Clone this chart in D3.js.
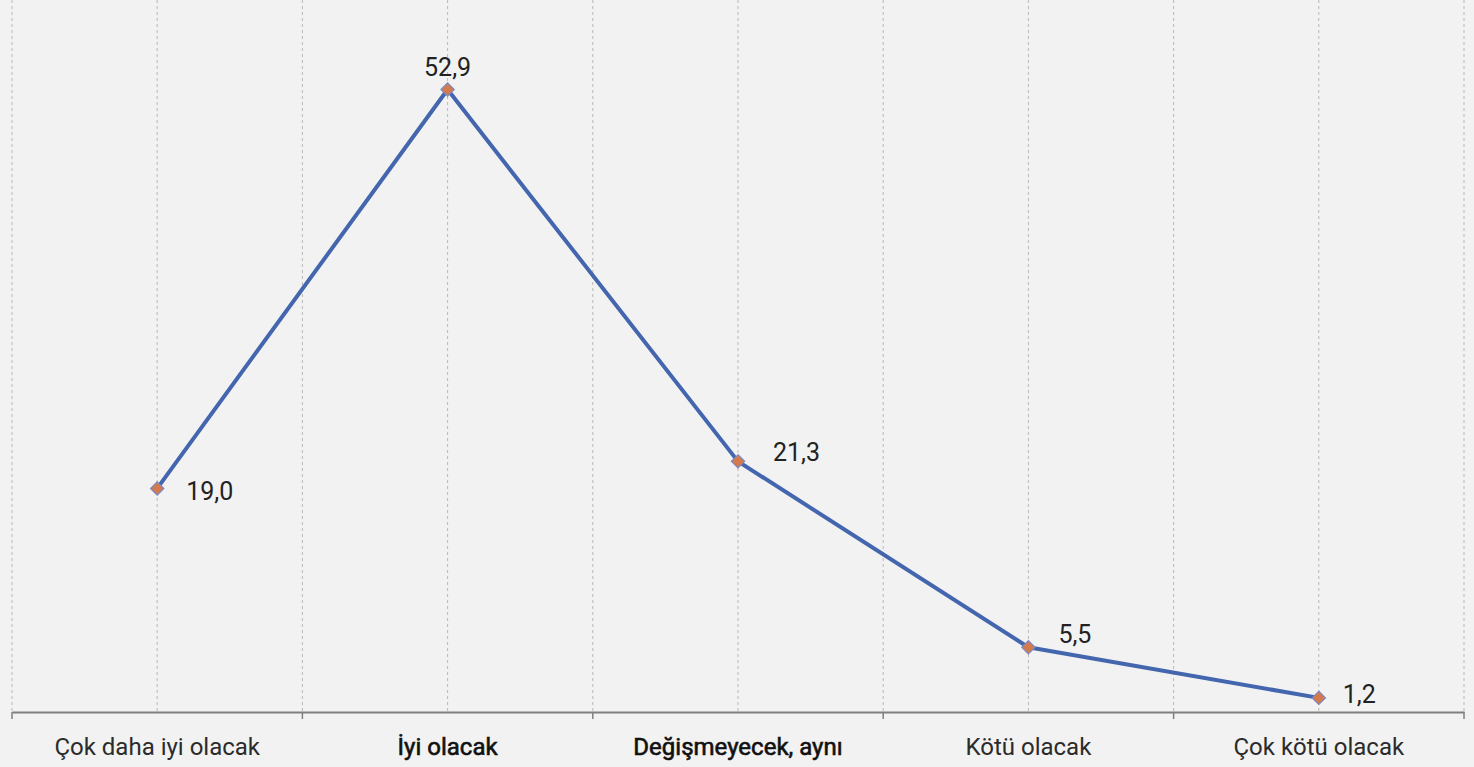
<!DOCTYPE html>
<html><head><meta charset="utf-8">
<script src="https://cdn.jsdelivr.net/npm/d3@7"></script>
<style>
html,body{margin:0;padding:0;background:#f2f2f2;}
svg{display:block;}
</style></head>
<body>
<script>
const categories = ["Çok daha iyi olacak","İyi olacak","Değişmeyecek, aynı","Kötü olacak","Çok kötü olacak"];
const values = [19.0, 52.9, 21.3, 5.5, 1.2];
const valueLabels = ["19,0","52,9","21,3","5,5","1,2"];
const boldCats = ["İyi olacak","Değişmeyecek, aynı"];

const W = 1474, H = 767;
const m = {left:12, right:10, top:6, bottom:55};
const svg = d3.select("body").append("svg").attr("width",W).attr("height",H);
svg.append("rect").attr("width",W).attr("height",H).attr("fill","#f2f2f2");

const x = d3.scaleBand().domain(categories).range([m.left, W-m.right]).padding(0);
const y = d3.scaleLinear().domain([0,60]).range([H-m.bottom, m.top]);

// gridlines at band boundaries and centers
const gx = [];
categories.forEach((c,i)=>{ gx.push(x(c)); gx.push(x(c)+x.bandwidth()/2); });
gx.push(x.range()[1]);
svg.append("g").selectAll("line").data(gx).join("line")
  .attr("x1",d=>d).attr("x2",d=>d).attr("y1",0).attr("y2",y(0))
  .attr("stroke","#b8b8b8").attr("stroke-width",1).attr("stroke-dasharray","3,3");

// axis
const axis = d3.axisBottom(x).tickSize(0).tickSizeOuter(0);
const ax = svg.append("g").attr("transform",`translate(0,${y(0)})`).call(axis);
ax.select(".domain").attr("stroke","#7f7f7f").attr("stroke-width",2);
ax.selectAll(".tick text").attr("dy",0).attr("y",43)
  .style("font-family","Roboto,sans-serif")
  .style("font-size","24px")
  .attr("fill",d=>boldCats.includes(d)?"#111":"#2b2b2b")
  .attr("stroke",d=>boldCats.includes(d)?"#111":"none")
  .attr("stroke-width",0.6);
// boundary tick marks
const bnd = categories.map(c=>x(c)).concat([x.range()[1]]);
svg.append("g").selectAll("line").data(bnd).join("line")
  .attr("x1",d=>d).attr("x2",d=>d).attr("y1",y(0)).attr("y2",y(0)+7)
  .attr("stroke","#7f7f7f").attr("stroke-width",1.5);

// line
const cx = c => x(c)+x.bandwidth()/2;
const line = d3.line().x((d,i)=>cx(categories[i])).y(d=>y(d));
svg.append("path").datum(values).attr("d",line)
  .attr("fill","none").attr("stroke","#4366ae").attr("stroke-width",4).attr("stroke-linejoin","round");

// markers
svg.append("g").selectAll("path").data(values).join("path")
  .attr("d",d3.symbol(d3.symbolDiamond2,110))
  .attr("transform",(d,i)=>`translate(${cx(categories[i])},${y(d)})`)
  .attr("fill","#d67a4c").attr("stroke","#8088bb").attr("stroke-width",1.3);

// data labels
const off = [[29,12,"start"],[0,-14,"middle"],[35,0,"start"],[30,-4,"start"],[24,5,"start"]];
svg.append("g").selectAll("text").data(values).join("text")
  .attr("x",(d,i)=>cx(categories[i])+off[i][0])
  .attr("y",(d,i)=>y(d)+off[i][1])
  .attr("text-anchor",(d,i)=>off[i][2])
  .style("font-family","Roboto,sans-serif")
  .style("font-size","25px").attr("fill","#222")
  .text((d,i)=>valueLabels[i]);
</script>
</body></html>
